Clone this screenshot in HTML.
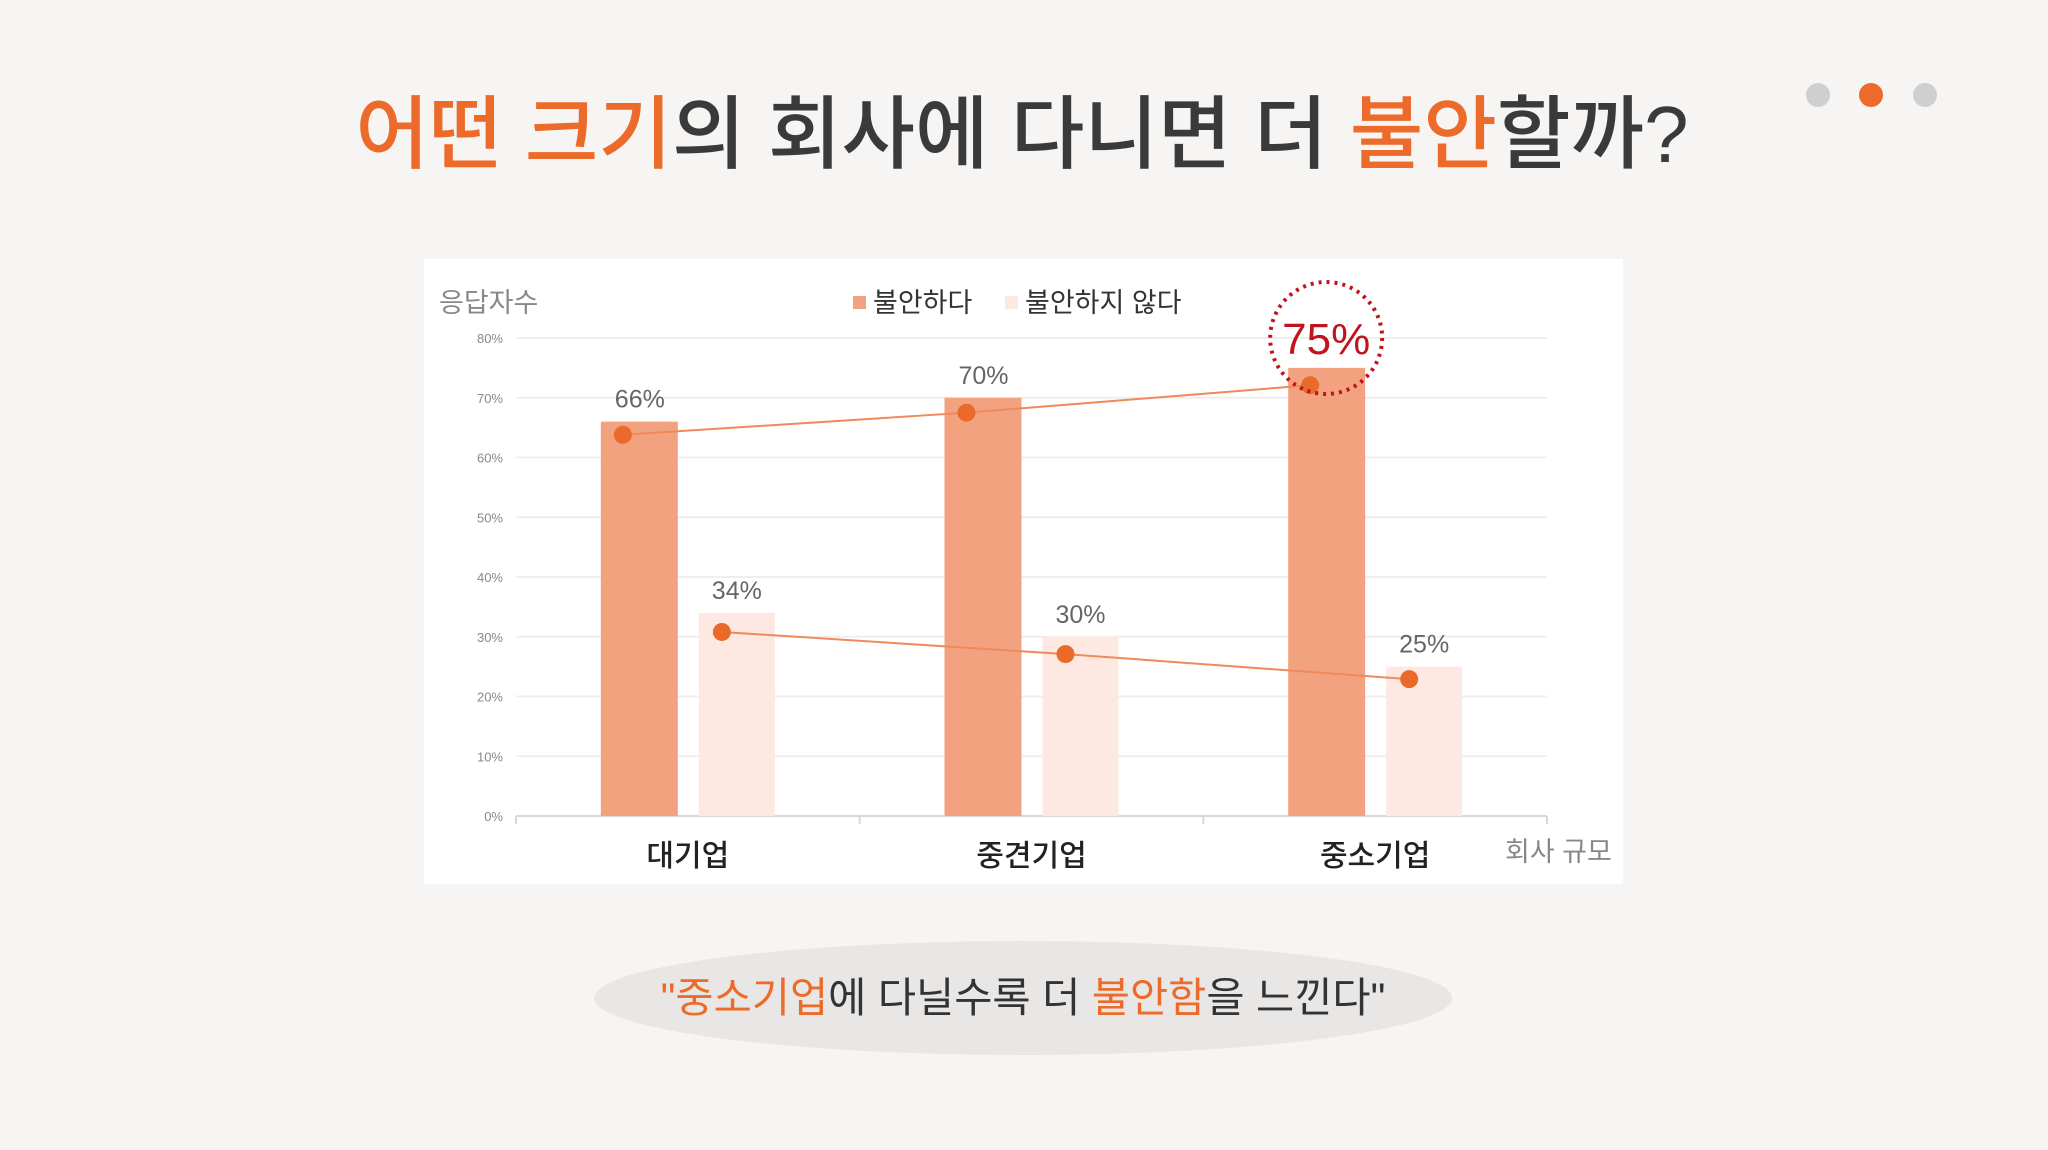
<!DOCTYPE html>
<html><head><meta charset="utf-8"><style>
body{margin:0;width:2048px;height:1145px;background:#f6f5f3;overflow:hidden;font-family:"Liberation Sans","Noto Sans CJK KR",sans-serif;}
</style></head><body>
<svg width="2048" height="1145" xmlns="http://www.w3.org/2000/svg" style="font-family:'Liberation Sans','Noto Sans CJK KR',sans-serif">
<text x="1022" y="162" text-anchor="middle" font-size="80" font-weight="500" fill="#3a3a3a"><tspan fill="#ec6a2a">어떤 크기</tspan>의 회사에 다니면 더 <tspan fill="#ec6a2a">불안</tspan>할까?</text>
<circle cx="1818" cy="95" r="12" fill="#cfcfcf"/>
<circle cx="1871" cy="95" r="12" fill="#ec6a2a"/>
<circle cx="1925" cy="95" r="12" fill="#cfcfcf"/>
<rect x="424" y="259" width="1199" height="625" fill="#fff"/>
<g id="chart"></g>
<ellipse cx="1023" cy="998" rx="429" ry="57" fill="#e9e7e5"/>
<text x="1023" y="1012" text-anchor="middle" font-size="41.5" fill="#333"><tspan fill="#ec6a2a">"중소기업</tspan>에 다닐수록 더 <tspan fill="#ec6a2a">불안함</tspan>을 느낀다"</text>
</svg>
<script>
const categories=["대기업","중견기업","중소기업"];
const anxious=[66,70,75];
const notAnxious=[34,30,25];
const anxiousLine=[63.8,67.5,72.1];
const notAnxiousLine=[30.8,27.1,22.9];
const ticks=[0,10,20,30,40,50,60,70,80];
const NS="http://www.w3.org/2000/svg";
const g=document.getElementById('chart');
const x0=516,x1=1547,y0=816,yTop=338;
const y=v=>y0-(v/80)*(y0-yTop);
const cw=(x1-x0)/categories.length;
const cx=i=>x0+cw*(i+0.5);
function mk(t,a,txt){const e=document.createElementNS(NS,t);for(const k in a)e.setAttribute(k,a[k]);if(txt!==undefined)e.textContent=txt;g.appendChild(e);return e;}
ticks.forEach(t=>{
 const l=mk('line',{x1:x0,x2:x1,y1:y(t),y2:y(t),stroke:t===0?'#d8d8d8':'#efefef','stroke-width':2});
 
 
 const tx=mk('text',{x:503,y:y(t)+5,'text-anchor':'end','font-size':13,fill:'#888'},t+'%');
 
 
});
for(let i=0;i<=categories.length;i++){const l=mk('line',{x1:x0+cw*i,x2:x0+cw*i,y1:y0,y2:y0+8,stroke:'#d8d8d8','stroke-width':2});
 
 }
categories.forEach((c,i)=>{
 const b1=mk('rect',{x:cx(i)-87,y:y(anxious[i]),width:77,height:y0-y(anxious[i]),fill:'#f3a27f'});
 
 
 const b2=mk('rect',{x:cx(i)+11,y:y(notAnxious[i]),width:76,height:y0-y(notAnxious[i]),fill:'#fde9e2'});
 
 
 if(i<2){const v=mk('text',{x:cx(i)-48,y:y(anxious[i])-14,'text-anchor':'middle','font-size':25,fill:'#666'},anxious[i]+'%');
 
 }
 const v2=mk('text',{x:cx(i)+49,y:y(notAnxious[i])-14,'text-anchor':'middle','font-size':25,fill:'#666'},notAnxious[i]+'%');
 
 
 const cl=mk('text',{x:cx(i),y:866,'text-anchor':'middle','font-size':30,fill:'#222','font-weight':'500'},c);
 
 
});
function line(vals,off,name){
 const pts=vals.map((v,i)=>[cx(i)+off,y(v)]);
 const p=mk('polyline',{points:pts.map(p=>p.join(',')).join(' '),fill:'none',stroke:'#ee8a5c','stroke-width':2});
 
 
 pts.forEach((q,i)=>{const d=mk('circle',{cx:q[0],cy:q[1],r:9,fill:'#ea6a2c'});
 
 });
}
line(anxiousLine,-65,'anxious');
line(notAnxiousLine,34,'not-anxious');
const hc=mk('circle',{cx:cx(2)-49,cy:338,r:56,fill:'none',stroke:'#c0141c','stroke-width':4,'stroke-dasharray':'3 5'});


const ht=mk('text',{x:cx(2)-49,y:354,'text-anchor':'middle','font-size':44,fill:'#c0141c'},anxious[2]+'%');


const yt=mk('text',{x:439,y:312,'font-size':27,fill:'#888'},'응답자수');


const xt=mk('text',{x:1505,y:861,'font-size':27,fill:'#888'},'회사 규모');


const ls1=mk('rect',{x:853,y:296,width:13,height:13,fill:'#f3a27f'});


const lt1=mk('text',{x:873,y:312,'font-size':27,fill:'#333'},'불안하다');


const ls2=mk('rect',{x:1005,y:296,width:13,height:13,fill:'#fde9e2'});


const lt2=mk('text',{x:1025,y:312,'font-size':27,fill:'#333'},'불안하지 않다');


</script>
</body></html>
